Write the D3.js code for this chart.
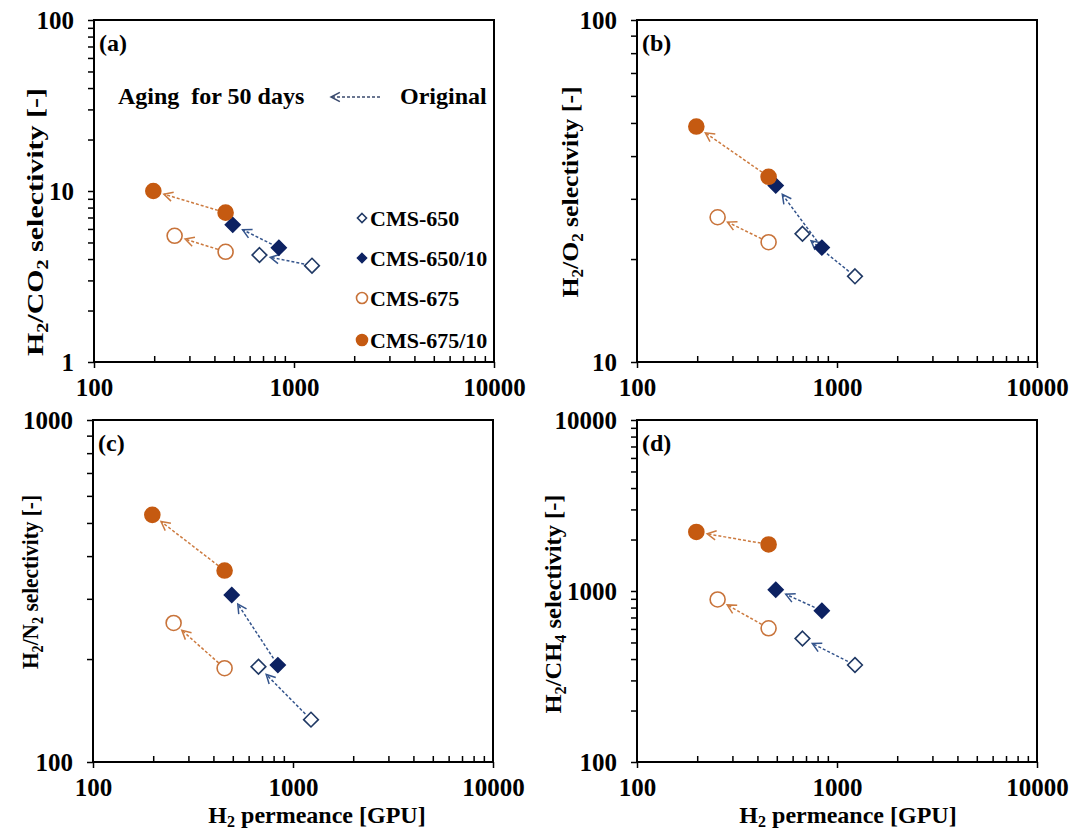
<!DOCTYPE html>
<html>
<head>
<meta charset="utf-8">
<script src="https://cdn.jsdelivr.net/npm/d3@7"></script>
<style>
body { margin: 0; background: #fff; }
svg text { font-family: "Liberation Serif", "Times New Roman", serif; font-weight: bold; fill: #000; }
</style>
</head>
<body>
<svg id="fig" width="1073" height="832"></svg>
<script>
// samples and H2 permeance [GPU], original and after 50 days of aging
const samples = ["CMS-650", "CMS-650/10", "CMS-675", "CMS-675/10"];
const permOriginal = [1230, 840, 455, 455];
const permAged = [672, 494, 253, 198];

// selectivities (same sample order)
const co2Original = [3.66, 4.66, 4.41, 7.47];
const co2Aged = [4.22, 6.34, 5.47, 10.0];
const o2Original = [17.8, 21.6, 22.4, 34.8];
const o2Aged = [23.7, 32.8, 26.5, 48.8];
const n2Original = [133, 192, 188, 363];
const n2Aged = [190, 308, 255, 528];
const ch4Original = [369, 767, 605, 1871];
const ch4Aged = [527, 1018, 892, 2215];

const xTickLabels = [100, 1000, 10000];

let W = 400, H = 342;
let navy = "#0d2262", orange = "#c55a11";
let styles = [
  {shape: "diamond", fill: "#fff", stroke: "#1f3864", arrow: "#34548c"},
  {shape: "diamond", fill: navy, stroke: navy, arrow: "#34548c"},
  {shape: "circle", fill: "#fff", stroke: "#c8733a", arrow: "#cc7a3f"},
  {shape: "circle", fill: orange, stroke: orange, arrow: "#cc7a3f"}
];

let panels = [
  {id: "(a)", left: 94, top: 20, domain: [1, 100], ticks: [1, 10, 100], orig: co2Original, aged: co2Aged,
   gas: ["CO", "2"], tx: 43, ty: 222, tlen: 268},
  {id: "(b)", left: 637, top: 20, domain: [10, 100], ticks: [10, 100], orig: o2Original, aged: o2Aged,
   gas: ["O", "2"], tx: 578, ty: 192, tlen: 211},
  {id: "(c)", left: 93, top: 420, domain: [100, 1000], ticks: [100, 1000], orig: n2Original, aged: n2Aged,
   gas: ["N", "2"], tx: 38, ty: 582, tlen: 174},
  {id: "(d)", left: 637, top: 420, domain: [100, 10000], ticks: [100, 1000, 10000], orig: ch4Original, aged: ch4Aged,
   gas: ["CH", "4"], tx: 561, ty: 604, tlen: 219}
];

let svg = d3.select("#fig");

function marker(sel, st, s) {
  if (st.shape == "circle") {
    sel.append("circle").attr("r", s).attr("fill", st.fill).attr("stroke", st.stroke).attr("stroke-width", 1.6);
  } else {
    let d = s * 1.05;
    sel.append("path").attr("d", "M0," + (-d) + "L" + d + ",0L0," + d + "L" + (-d) + ",0Z")
      .attr("fill", st.fill).attr("stroke", st.stroke).attr("stroke-width", 1.6);
  }
}

// dashed arrow from (x1,y1) to (x2,y2), open head at the end
function arrow(g, x1, y1, x2, y2, color, gap1, gap2) {
  let dx = x2 - x1, dy = y2 - y1, len = Math.sqrt(dx * dx + dy * dy);
  let ux = dx / len, uy = dy / len;
  let sx = x1 + ux * gap1, sy = y1 + uy * gap1;
  let ex = x2 - ux * gap2, ey = y2 - uy * gap2;
  g.append("line").attr("x1", sx).attr("y1", sy).attr("x2", ex).attr("y2", ey)
    .attr("stroke", color).attr("stroke-width", 1.5).attr("stroke-dasharray", "3,2");
  let hl = 10, a = Math.PI / 6.5;
  let ang = Math.atan2(uy, ux);
  let p1 = [ex - hl * Math.cos(ang - a), ey - hl * Math.sin(ang - a)];
  let p2 = [ex - hl * Math.cos(ang + a), ey - hl * Math.sin(ang + a)];
  g.append("path").attr("d", "M" + p1 + "L" + ex + "," + ey + "L" + p2)
    .attr("fill", "none").attr("stroke", color).attr("stroke-width", 1.5);
}

panels.forEach((p, pi) => {
  let g = svg.append("g").attr("transform", "translate(" + p.left + "," + p.top + ")");
  let x = d3.scaleLog().domain([100, 10000]).range([0, W]);
  let y = d3.scaleLog().domain(p.domain).range([H, 0]);

  let xMinor = x.ticks().filter(v => !xTickLabels.includes(Math.round(v)));
  let yAll = y.ticks();

  // x minor ticks point inward
  let xm = g.append("g").attr("transform", "translate(0," + H + ")")
    .call(d3.axisBottom(x).tickValues(xMinor).tickSizeInner(-6).tickSizeOuter(0).tickFormat(""));
  xm.select(".domain").remove();
  xm.selectAll("line").attr("stroke-width", 1.5);

  let xa = g.append("g").attr("transform", "translate(0," + H + ")")
    .call(d3.axisBottom(x).tickValues(xTickLabels).tickSizeInner(6).tickSizeOuter(0).tickPadding(10).tickFormat(d3.format("d")));
  xa.select(".domain").remove();
  xa.selectAll("text").attr("font-size", 25).attr("fill", "#000");
  xa.selectAll("line").attr("stroke-width", 1.5);

  let ya = g.append("g")
    .call(d3.axisLeft(y).tickValues(yAll).tickSizeInner(6).tickSizeOuter(0).tickPadding(14)
      .tickFormat(d => p.ticks.includes(Math.round(d)) ? d3.format("d")(d) : ""));
  ya.select(".domain").remove();
  ya.selectAll("text").attr("font-size", 25).attr("fill", "#000");
  ya.selectAll("line").attr("stroke-width", 1.5);

  g.append("rect").attr("width", W).attr("height", H)
    .attr("fill", "none").attr("stroke", "#000").attr("stroke-width", 2);

  g.append("text").attr("x", 5).attr("y", 31).attr("font-size", 24).text(p.id);

  // arrows, then markers (CMS-650 series first)
  samples.forEach((s, i) => {
    let st = styles[i];
    arrow(g, x(permOriginal[i]), y(p.orig[i]), x(permAged[i]), y(p.aged[i]), st.arrow, 8, 11);
  });
  samples.forEach((s, i) => {
    let st = styles[i];
    let r = st.shape == "circle" ? 7.5 : 7;
    marker(g.append("g").attr("transform", "translate(" + x(permOriginal[i]) + "," + y(p.orig[i]) + ")"), st, r);
    marker(g.append("g").attr("transform", "translate(" + x(permAged[i]) + "," + y(p.aged[i]) + ")"), st, r);
  });

  // y axis title
  let t = svg.append("text")
    .attr("transform", "translate(" + p.tx + "," + p.ty + ") rotate(-90)")
    .attr("text-anchor", "middle").attr("font-size", 24)
    .attr("textLength", p.tlen).attr("lengthAdjust", "spacingAndGlyphs");
  t.append("tspan").text("H");
  t.append("tspan").attr("font-size", 16).attr("dy", 5).text("2");
  t.append("tspan").attr("dy", -5).text("/" + p.gas[0]);
  t.append("tspan").attr("font-size", 16).attr("dy", 5).text(p.gas[1]);
  t.append("tspan").attr("dy", -5).text(" selectivity [-]");

  // x axis title on bottom row
  if (pi >= 2) {
    let xt = svg.append("text")
      .attr("x", p.left + (pi == 2 ? 224 : 211)).attr("y", 823)
      .attr("text-anchor", "middle").attr("font-size", 24);
    xt.append("tspan").text("H");
    xt.append("tspan").attr("font-size", 16).attr("dy", 4).text("2");
    xt.append("tspan").attr("dy", -4).text(" permeance [GPU]");
  }
});

// legend in panel (a)
let leg = svg.append("g").attr("transform", "translate(362,218)");
samples.forEach((s, i) => {
  let row = leg.append("g").attr("transform", "translate(0," + [0, 40, 80, 122][i] + ")");
  marker(row.append("g"), styles[i], i < 2 ? 4.3 : 5.5);
  row.append("text").attr("x", 8).attr("y", 7.5).attr("font-size", 22).text(s);
});

// aging annotation
svg.append("text").attr("x", 118).attr("y", 104).attr("font-size", 24)
  .style("white-space", "pre").text("Aging  for 50 days");
arrow(svg, 380, 97, 331, 97, "#3a4a6e", 0, 0);
svg.append("text").attr("x", 400).attr("y", 104).attr("font-size", 24).text("Original");
</script>
</body>
</html>
